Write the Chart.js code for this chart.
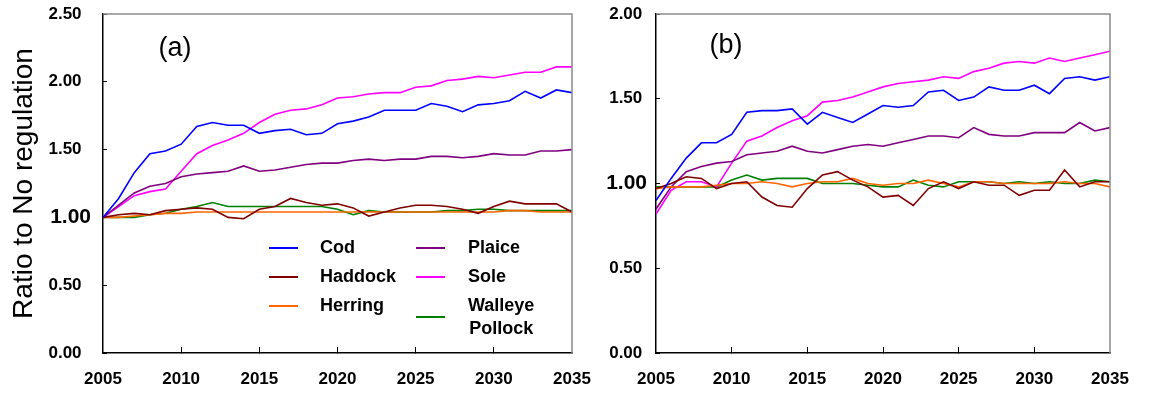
<!DOCTYPE html>
<html>
<head>
<meta charset="utf-8">
<script src="https://cdn.jsdelivr.net/npm/chart.js@4.4.0/dist/chart.umd.min.js"></script>
<style>
  html, body { margin: 0; padding: 0; background: #fff; width: 1152px; height: 394px; overflow: hidden; }
  canvas { position: absolute; top: 0; }
  #panelA { left: 0; }
  #panelB { left: 600px; }
</style>
</head>
<body>
<canvas id="panelA" width="600" height="394"></canvas>
<canvas id="panelB" width="552" height="394"></canvas>
<script>
// Projection years
const years = [2005, 2006, 2007, 2008, 2009, 2010, 2011, 2012, 2013, 2014, 2015,
               2016, 2017, 2018, 2019, 2020, 2021, 2022, 2023, 2024, 2025,
               2026, 2027, 2028, 2029, 2030, 2031, 2032, 2033, 2034, 2035];

const species = ['Cod', 'Haddock', 'Herring', 'Plaice', 'Sole', 'Walleye Pollock'];
const speciesColors = ['#0000ff', '#800000', '#ff6600', '#800080', '#ff00ff', '#008000'];

// Panel (a): ratio to no regulation
const codA     = [1.00, 1.14, 1.33, 1.47, 1.49, 1.54, 1.67, 1.70, 1.68, 1.68, 1.62, 1.64, 1.65, 1.61, 1.62, 1.69, 1.71, 1.74, 1.79, 1.79, 1.79, 1.84, 1.82, 1.78, 1.83, 1.84, 1.86, 1.93, 1.88, 1.94, 1.92];
const haddockA = [1.00, 1.02, 1.03, 1.02, 1.05, 1.06, 1.07, 1.06, 1.00, 0.99, 1.06, 1.08, 1.14, 1.11, 1.09, 1.10, 1.07, 1.01, 1.04, 1.07, 1.09, 1.09, 1.08, 1.06, 1.03, 1.08, 1.12, 1.10, 1.10, 1.10, 1.04];
const herringA = [1.00, 1.00, 1.01, 1.02, 1.03, 1.03, 1.04, 1.04, 1.04, 1.04, 1.04, 1.04, 1.04, 1.04, 1.04, 1.04, 1.04, 1.04, 1.04, 1.04, 1.04, 1.04, 1.04, 1.04, 1.04, 1.04, 1.05, 1.05, 1.04, 1.04, 1.04];
const plaiceA  = [1.00, 1.09, 1.18, 1.23, 1.25, 1.30, 1.32, 1.33, 1.34, 1.38, 1.34, 1.35, 1.37, 1.39, 1.40, 1.40, 1.42, 1.43, 1.42, 1.43, 1.43, 1.45, 1.45, 1.44, 1.45, 1.47, 1.46, 1.46, 1.49, 1.49, 1.50];
const soleA    = [1.00, 1.08, 1.16, 1.19, 1.21, 1.34, 1.47, 1.53, 1.57, 1.62, 1.70, 1.76, 1.79, 1.80, 1.83, 1.88, 1.89, 1.91, 1.92, 1.92, 1.96, 1.97, 2.01, 2.02, 2.04, 2.03, 2.05, 2.07, 2.07, 2.11, 2.11];
const pollockA = [1.00, 1.00, 1.00, 1.02, 1.03, 1.06, 1.08, 1.11, 1.08, 1.08, 1.08, 1.08, 1.08, 1.08, 1.08, 1.06, 1.02, 1.05, 1.04, 1.04, 1.04, 1.04, 1.05, 1.05, 1.06, 1.06, 1.05, 1.05, 1.05, 1.05, 1.05];

// Panel (b)
const codB     = [0.90, 1.03, 1.15, 1.24, 1.24, 1.29, 1.42, 1.43, 1.43, 1.44, 1.35, 1.42, 1.39, 1.36, 1.41, 1.46, 1.45, 1.46, 1.54, 1.55, 1.49, 1.51, 1.57, 1.55, 1.55, 1.58, 1.53, 1.62, 1.63, 1.61, 1.63];
const haddockB = [0.97, 1.00, 1.04, 1.03, 0.97, 1.00, 1.01, 0.92, 0.87, 0.86, 0.97, 1.05, 1.07, 1.02, 0.98, 0.92, 0.93, 0.87, 0.97, 1.01, 0.97, 1.01, 0.99, 0.99, 0.93, 0.96, 0.96, 1.08, 0.98, 1.01, 1.01];
const herringB = [0.97, 0.98, 0.98, 0.98, 0.99, 1.00, 1.00, 1.01, 1.00, 0.98, 1.00, 1.01, 1.01, 1.03, 1.00, 0.99, 1.00, 1.00, 1.02, 1.00, 0.98, 1.01, 1.01, 1.00, 1.00, 1.00, 1.00, 1.01, 1.00, 1.00, 0.98];
const plaiceB  = [0.85, 0.98, 1.07, 1.10, 1.12, 1.13, 1.17, 1.18, 1.19, 1.22, 1.19, 1.18, 1.20, 1.22, 1.23, 1.22, 1.24, 1.26, 1.28, 1.28, 1.27, 1.33, 1.29, 1.28, 1.28, 1.30, 1.30, 1.30, 1.36, 1.31, 1.33];
const soleB    = [0.82, 0.96, 1.01, 1.01, 0.98, 1.12, 1.25, 1.28, 1.33, 1.37, 1.40, 1.48, 1.49, 1.51, 1.54, 1.57, 1.59, 1.60, 1.61, 1.63, 1.62, 1.66, 1.68, 1.71, 1.72, 1.71, 1.74, 1.72, 1.74, 1.76, 1.78];
const pollockB = [0.98, 0.98, 0.98, 0.98, 0.98, 1.02, 1.05, 1.02, 1.03, 1.03, 1.03, 1.00, 1.00, 1.00, 0.99, 0.98, 0.98, 1.02, 0.99, 0.98, 1.01, 1.01, 1.01, 1.00, 1.01, 1.00, 1.01, 1.00, 1.00, 1.02, 1.01];

// Axis ranges and tick steps
const xMin = 2005, xMax = 2035, xStep = 5;
const yMaxA = 2.5, yMaxB = 2.0, yStep = 0.5;

const FONT = '"Liberation Sans", Arial, Helvetica, sans-serif';
Chart.defaults.font.family = FONT;
Chart.defaults.color = '#000';

const isOne = v => Math.abs(v - 1) < 1e-9;

// Keep the plot area fixed: drop the extra room Chart.js reserves for edge labels
function clearScalePadding(s) {
  s.paddingTop = 0; s.paddingBottom = 0; s.paddingLeft = 0; s.paddingRight = 0;
}

// Grey top and right edges of the plot frame
const framePlugin = {
  id: 'frameEdges',
  afterDatasetsDraw(chart) {
    const { ctx, chartArea: a } = chart;
    ctx.save();
    ctx.strokeStyle = '#8a8a8a';
    ctx.lineWidth = 1.5;
    ctx.beginPath();
    ctx.moveTo(a.left, a.top);
    ctx.lineTo(a.right, a.top);
    ctx.lineTo(a.right, a.bottom);
    ctx.stroke();
    ctx.restore();
  }
};

// Panel letter and optional two-column legend
const notesPlugin = {
  id: 'notes',
  afterDraw(chart, args, opts) {
    const ctx = chart.ctx;
    ctx.save();
    ctx.fillStyle = '#000';
    ctx.textBaseline = 'middle';
    ctx.textAlign = 'center';
    ctx.font = '27px ' + FONT;
    ctx.fillText(opts.letter, opts.letterX, opts.letterY);

    if (opts.legend) {
      const L = opts.legend;
      chart.data.datasets.forEach((ds, i) => {
        const col = Math.floor(i / 3), row = i % 3;
        const lines = ds.label.split(' ');
        const cy = L.rows[row];
        const lineY = lines.length > 1 ? cy + L.wrapShift : cy;
        ctx.strokeStyle = ds.borderColor;
        ctx.lineWidth = 2;
        ctx.beginPath();
        ctx.moveTo(L.lineX[col], lineY);
        ctx.lineTo(L.lineX[col] + L.lineLen, lineY);
        ctx.stroke();
        ctx.font = 'bold 18px ' + FONT;
        ctx.fillStyle = '#000';
        if (lines.length > 1) {
          const w = Math.max(...lines.map(t => ctx.measureText(t).width));
          ctx.textAlign = 'center';
          lines.forEach((t, k) => ctx.fillText(t, L.textX[col] + w / 2, cy + k * L.lineGap));
        } else {
          ctx.textAlign = 'left';
          ctx.fillText(lines[0], L.textX[col], cy);
        }
      });
    }
    ctx.restore();
  }
};

function makePanel(canvasId, series, cfg) {
  const datasets = species.map((name, i) => ({
    label: name,
    data: years.map((yr, j) => ({ x: yr, y: series[i][j] })),
    borderColor: speciesColors[i],
    backgroundColor: speciesColors[i],
    borderWidth: 1.6,
    pointRadius: 0,
    tension: 0,
    fill: false
  }));

  return new Chart(document.getElementById(canvasId), {
    type: 'line',
    data: { datasets },
    plugins: [framePlugin, notesPlugin],
    options: {
      responsive: false,
      animation: false,
      devicePixelRatio: 1,
      layout: { padding: { top: 14, left: 0, right: cfg.padRight, bottom: 0 } },
      plugins: {
        legend: { display: false },
        tooltip: { enabled: false },
        notes: cfg.notes
      },
      scales: {
        x: {
          type: 'linear',
          min: xMin, max: xMax,
          ticks: {
            stepSize: xStep,
            autoSkip: false,
            maxRotation: 0,
            padding: 22,
            font: { size: 17, weight: 'bold' },
            callback: v => String(v)
          },
          grid: {
            drawOnChartArea: false,
            tickLength: -6,
            lineWidth: 1,
            color: c => (c.tick && (c.tick.value === xMin || c.tick.value === xMax)) ? 'rgba(0,0,0,0)' : '#000'
          },
          border: { color: '#000', width: 1.5 },
          afterFit: s => { s.height = 41; clearScalePadding(s); }
        },
        y: {
          type: 'linear',
          min: 0, max: cfg.yMax,
          ticks: {
            stepSize: yStep,
            padding: cfg.tickPad,
            font: c => ({ size: (c.tick && isOne(c.tick.value)) ? 21 : 17, weight: 'bold' }),
            callback: v => v.toFixed(2) + (isOne(v) ? '' : cfg.labelGap)
          },
          grid: {
            drawOnChartArea: false,
            tickLength: -4,
            lineWidth: 1,
            color: '#000'
          },
          border: { color: '#000', width: 1.5 },
          title: cfg.yTitle,
          afterFit: s => { s.width = cfg.yWidth; clearScalePadding(s); }
        }
      }
    }
  });
}

makePanel('panelA', [codA, haddockA, herringA, plaiceA, soleA, pollockA], {
  yMax: yMaxA,
  yWidth: 103,
  padRight: 28,
  tickPad: 16,
  labelGap: '  ',
  yTitle: { display: true, text: 'Ratio to No regulation', font: { size: 28, weight: 'normal' }, padding: { top: 7, bottom: 0 } },
  notes: {
    letter: '(a)', letterX: 175, letterY: 49,
    legend: {
      rows: [248, 277, 306],
      wrapShift: 11,
      lineGap: 23,
      lineX: [269, 416],
      lineLen: 29,
      textX: [320, 468]
    }
  }
});

makePanel('panelB', [codB, haddockB, herringB, plaiceB, soleB, pollockB], {
  yMax: yMaxB,
  yWidth: 56,
  padRight: 42,
  tickPad: 13,
  labelGap: ' ',
  yTitle: { display: false },
  notes: { letter: '(b)', letterX: 126, letterY: 46 }
});
</script>
</body>
</html>
